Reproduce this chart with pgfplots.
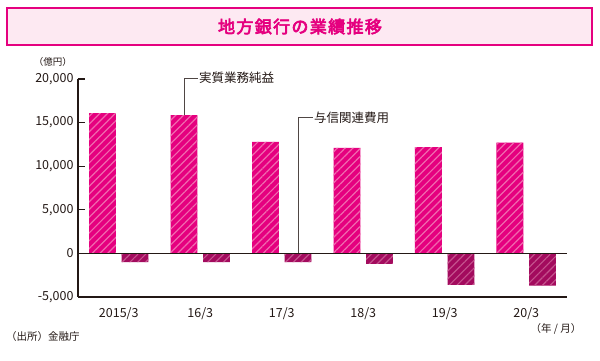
\documentclass[border=0pt]{standalone}
\usepackage{fontspec}
\setmainfont{Noto Sans CJK JP}
\newfontfamily\titlefont[FakeBold=4, LetterSpace=8]{Noto Sans CJK JP}
\usepackage{pgfplots}
\pgfplotsset{compat=1.18}
\usetikzlibrary{patterns.meta}
\definecolor{mag}{HTML}{E5007F}
\definecolor{maghatch}{HTML}{F069AE}
\definecolor{darkm}{HTML}{A30B5E}
\definecolor{darkhatch}{HTML}{C5528D}
\definecolor{titlebg}{HTML}{FDE9F2}
\definecolor{txt}{HTML}{231815}
\begin{document}
\begin{tikzpicture}
\path[use as bounding box] (0,0) rectangle (600pt,361pt);
% title box
\draw[line width=2.5pt, draw=mag, fill=titlebg] (7pt,316pt) rectangle (592pt,353pt);
\node[text=mag, font=\titlefont\fontsize{17}{20}\selectfont] at (300pt,334.5pt) {地方銀行の業績推移};
\node[text=txt, font=\fontsize{9.5}{11}\selectfont] at (53pt,299pt) {（億円）};
\node[text=txt, font=\fontsize{10.5}{12}\selectfont] at (556pt,32pt) {（年 / 月）};
\node[text=txt, font=\fontsize{10.5}{12}\selectfont, anchor=west, inner sep=0pt] at (6pt,24pt) {（出所）金融庁};
\begin{axis}[
  at={(78pt,64pt)}, anchor=south west,
  scale only axis, width=489pt, height=218pt,
  xmin=-0.5, xmax=5.5, ymin=-5000, ymax=20000,
  axis lines=left,
  axis line style={-, line width=1.5pt, color=txt},
  clip=false,
  ytick={-5000,0,5000,10000,15000,20000},
  tick align=inside,
  major tick length=7pt,
  tick style={line width=1.3pt, color=txt},
  yticklabel style={font=\fontsize{12.5}{14}\selectfont, text=txt, xshift=-1pt},
  /pgf/number format/assume math mode=true,
  /pgf/number format/1000 sep={,},
  scaled y ticks=false,
  xtick={0,1,2,3,4,5},
  xticklabels={2015/3,16/3,17/3,18/3,19/3,20/3},
  xticklabel style={font=\fontsize{12.5}{14}\selectfont, text=txt},
  x tick style={draw=none},
  extra x ticks={0.5,1.5,2.5,3.5,4.5,5.5},
  extra x tick labels={},
  extra x tick style={tick style={draw=txt, line width=1.3pt}, major tick length=7pt},
  ybar, bar width=0.33,
]
\addplot[fill=mag, draw=none, bar shift=-0.2,
  postaction={pattern={Lines[angle=45,distance=5.5pt,line width=1.2pt]}, pattern color=maghatch}]
  coordinates {(0,16100) (1,15850) (2,12800) (3,12100) (4,12200) (5,12700)};
\addplot[fill=darkm, draw=none, bar shift=0.2,
  postaction={pattern={Lines[angle=45,distance=5.5pt,line width=1.2pt]}, pattern color=darkhatch}]
  coordinates {(0,-1000) (1,-1000) (2,-1000) (3,-1200) (4,-3600) (5,-3700)};
\draw[line width=1.5pt, color=txt] (axis cs:-0.5,0) -- (axis cs:5.5,0);
\draw[line width=0.6pt, color=txt!80] (axis cs:0.8,15850) -- (axis cs:0.8,20100) -- (axis cs:0.97,20100)
  node[anchor=west, inner sep=1pt, text=txt, font=\fontsize{12.5}{14}\selectfont] {実質業務純益};
\draw[line width=0.6pt, color=txt!80] (axis cs:2.2,0) -- (axis cs:2.2,15590) -- (axis cs:2.38,15590)
  node[anchor=west, inner sep=1pt, text=txt, font=\fontsize{12.5}{14}\selectfont] {与信関連費用};
\end{axis}
\end{tikzpicture}
\end{document}
